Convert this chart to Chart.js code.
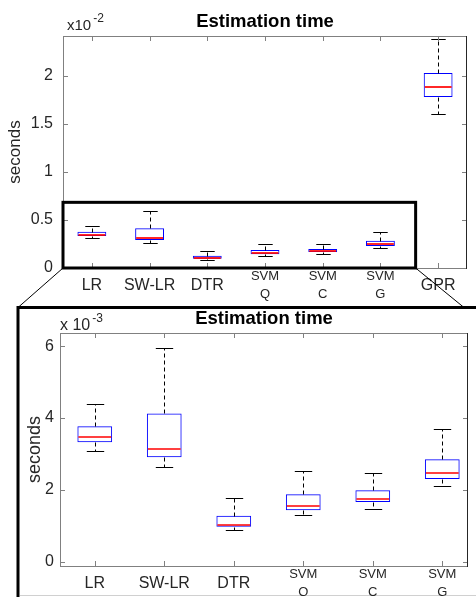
<!DOCTYPE html>
<html>
<head>
<meta charset="utf-8">
<title>Estimation time</title>
<script src="https://cdn.jsdelivr.net/npm/chart.js@4.4.1/dist/chart.umd.min.js"></script>
<style>
    html, body { margin: 0; padding: 0; background: #fff; }
    #stage { position: relative; width: 476px; height: 597px; overflow: hidden; }
    #stage canvas { position: absolute; left: 0; top: 0; }
</style>
</head>
<body>
<div id="stage">
    <canvas id="overview" width="476" height="597"></canvas>
    <canvas id="closeup" width="476" height="597"></canvas>
</div>
<script>
const categories = ['LR', 'SW-LR', 'DTR', ['SVM', 'Q'], ['SVM', 'C'], ['SVM', 'G'], 'GPR'];

// estimation time, in units of 1e-3 s
const whiskerLow = [3.09, 2.63, 0.88, 1.30, 1.47, 2.10, 16.0];
const q1 = [3.33, 2.91, 0.97, 1.43, 1.66, 2.30, 17.8];
const median = [3.47, 3.14, 1.03, 1.54, 1.76, 2.46, 18.9];
const q3 = [3.77, 4.13, 1.28, 1.88, 1.99, 2.85, 20.3];
const whiskerHigh = [4.38, 5.94, 1.77, 2.54, 2.47, 3.70, 23.85];

const overviewTicks = [0, 0.5, 1, 1.5, 2]; // x10^-2
const closeupTicks = [0, 2, 4, 6]; // x10^-3
const closeupCount = 6; // GPR is left out of the close-up

// zoom rectangle on the overview, in overview units
const zoomArea = { x: [0.5, 6.61], y: [0, 0.684] };

const FONT = '"Liberation Sans", Arial, Helvetica, sans-serif';
const INK = '#262626';
const AXIS = '#808080';

function line(ctx, x1, y1, x2, y2) {
    ctx.beginPath();
    ctx.moveTo(x1, y1);
    ctx.lineTo(x2, y2);
    ctx.stroke();
}

const boxWhiskers = {
    id: 'boxWhiskers',
    afterDatasetsDraw(chart, args, opts) {
        const { ctx, chartArea: area, scales: { y } } = chart;
        const bars = chart.getDatasetMeta(0).data;
        const py = (v) => Math.round(y.getPixelForValue(v / opts.unit)) + 0.5;

        ctx.save();
        ctx.beginPath();
        ctx.rect(area.left, area.top, area.right - area.left, area.bottom - area.top);
        ctx.clip();

        bars.forEach((bar, i) => {
            const cx = Math.round(bar.x) + 0.5;
            const half = bar.width / 2;

            ctx.lineWidth = 1;
            ctx.strokeStyle = '#000';
            ctx.setLineDash([4, 3]);
            line(ctx, cx, py(q3[i]), cx, py(whiskerHigh[i]));
            line(ctx, cx, py(q1[i]), cx, py(whiskerLow[i]));
            ctx.setLineDash([]);
            line(ctx, cx - half / 2, py(whiskerHigh[i]), cx + half / 2, py(whiskerHigh[i]));
            line(ctx, cx - half / 2, py(whiskerLow[i]), cx + half / 2, py(whiskerLow[i]));

            const my = Math.round(y.getPixelForValue(median[i] / opts.unit));
            ctx.lineWidth = 1.7;
            ctx.strokeStyle = '#ff0000';
            line(ctx, bar.x - half + 1, my, bar.x + half - 1, my);
        });
        ctx.restore();
    },
};

const axesFrame = {
    id: 'axesFrame',
    afterDatasetsDraw(chart, args, opts) {
        const { ctx, chartArea: { left, top, right, bottom }, scales: { x, y } } = chart;
        const tick = 5;

        ctx.save();
        ctx.lineWidth = 1;
        ctx.strokeStyle = AXIS;
        line(ctx, left + 0.5, top, left + 0.5, bottom + 1);
        line(ctx, left, top + 0.5, right, top + 0.5);
        line(ctx, left, bottom + 0.5, right, bottom + 0.5);

        x.ticks.forEach((t) => {
            const px = Math.round(x.getPixelForValue(t.value)) + 0.5;
            line(ctx, px, bottom, px, bottom - tick);
            line(ctx, px, top, px, top + tick);
        });
        y.ticks.forEach((t) => {
            const py = Math.round(y.getPixelForValue(t.value)) + 0.5;
            line(ctx, left, py, left + tick, py);
            line(ctx, right, py, right - tick, py);
        });

        ctx.strokeStyle = INK;
        line(ctx, right - 0.5, top, right - 0.5, bottom + 1);

        // axis exponent
        ctx.fillStyle = INK;
        ctx.textBaseline = 'alphabetic';
        ctx.font = `${opts.baseSize}px ${FONT}`;
        const bx = left + opts.dx;
        ctx.fillText(opts.base, bx, top + opts.dy);
        const w = ctx.measureText(opts.base).width;
        ctx.font = `12px ${FONT}`;
        ctx.fillText(opts.power, bx + w + 2, top + opts.dy - 8);
        ctx.restore();
    },
};

const zoomGuide = {
    id: 'zoomGuide',
    afterDraw(chart, args, opts) {
        const { ctx, scales: { x, y } } = chart;
        const l = x.getPixelForValue(zoomArea.x[0]);
        const r = x.getPixelForValue(zoomArea.x[1]);
        const b = y.getPixelForValue(zoomArea.y[0]);
        const t = y.getPixelForValue(zoomArea.y[1]);
        const frame = opts.frame;

        ctx.save();
        ctx.strokeStyle = '#000';
        ctx.lineWidth = 3;
        ctx.strokeRect(l, t, r - l, b - t);

        ctx.beginPath();
        ctx.moveTo(frame.left, chart.height + 2);
        ctx.lineTo(frame.left, frame.top);
        ctx.lineTo(chart.width + 2, frame.top);
        ctx.stroke();

        ctx.lineWidth = 1;
        line(ctx, l, b, frame.left, frame.top);
        line(ctx, r, b, frame.rightHit, frame.top);

        ctx.strokeStyle = '#d0d0d0';
        line(ctx, frame.left + 2, chart.height - 1.5, chart.width, chart.height - 1.5);
        ctx.restore();
    },
};

function boxChart(canvas, cfg) {
    const n = cfg.count;
    const big = { family: FONT, size: 16, lineHeight: '36px' };
    const small = { family: FONT, size: 13, lineHeight: '17.5px' };

    return new Chart(canvas, {
        type: 'bar',
        data: {
            datasets: [{
                data: q1.slice(0, n).map((v, i) => ({ x: i + 1, y: [v / cfg.unit, q3[i] / cfg.unit] })),
                backgroundColor: 'rgba(255, 255, 255, 0)',
                borderColor: '#0000ff',
                borderWidth: 1,
                borderSkipped: false,
                categoryPercentage: 1,
                barPercentage: 0.5,
            }],
        },
        options: {
            responsive: false,
            animation: false,
            events: [],
            layout: { padding: cfg.padding },
            plugins: {
                legend: { display: false },
                tooltip: { enabled: false },
                title: {
                    display: true,
                    text: 'Estimation time',
                    fullSize: false,
                    color: '#000',
                    font: { family: FONT, size: 18.5, weight: 'bold', lineHeight: 1.2 },
                    padding: cfg.titlePadding,
                },
                boxWhiskers: { unit: cfg.unit },
                axesFrame: cfg.exponent,
                zoomGuide: cfg.guide || {},
            },
            scales: {
                x: {
                    type: 'linear',
                    min: 0.5,
                    max: cfg.xMax,
                    bounds: 'data',
                    offset: false,
                    grid: { display: false, drawTicks: false },
                    border: { display: false },
                    afterBuildTicks: (scale) => {
                        scale.ticks = categories.slice(0, n).map((c, i) => ({ value: i + 1 }));
                    },
                    afterFit: (scale) => { scale.height = cfg.xHeight; },
                    ticks: {
                        padding: 0,
                        color: INK,
                        autoSkip: false,
                        maxRotation: 0,
                        callback: (value) => categories[value - 1],
                        font: (ctx) => (Array.isArray(categories[ctx.index]) ? small : big),
                    },
                },
                y: {
                    min: cfg.yMin,
                    max: cfg.yMax,
                    bounds: 'data',
                    grid: { display: false, drawTicks: false },
                    border: { display: false },
                    afterBuildTicks: (scale) => {
                        scale.ticks = cfg.yTicks.map((v) => ({ value: v }));
                    },
                    afterFit: (scale) => { scale.width = cfg.yWidth; },
                    ticks: {
                        padding: cfg.yPad,
                        color: INK,
                        font: { family: FONT, size: 16 },
                        callback: (value) => String(value),
                    },
                    title: {
                        display: true,
                        text: 'seconds',
                        color: INK,
                        font: { family: FONT, size: cfg.yTitleSize, lineHeight: 1.2 },
                        padding: { top: cfg.yTitlePad, bottom: 0 },
                    },
                },
            },
        },
        plugins: cfg.plugins,
    });
}

boxChart(document.getElementById('overview'), {
    count: categories.length,
    unit: 10,
    xMax: 7.5,
    yMin: 0,
    yMax: 2.4167,
    yTicks: overviewTicks,
    padding: { left: 0, right: 9, top: 0, bottom: 289 },
    titlePadding: { top: 10.5, bottom: 3.3 },
    xHeight: 40,
    yWidth: 63,
    yPad: 10,
    yTitleSize: 17,
    yTitlePad: 5,
    exponent: { base: 'x10', power: '-2', baseSize: 15, dx: 4, dy: -6 },
    guide: { frame: { left: 18, top: 307.5, rightHit: 464 } },
    plugins: [boxWhiskers, axesFrame, zoomGuide],
});

boxChart(document.getElementById('closeup'), {
    count: closeupCount,
    unit: 1,
    xMax: 6.37,
    yMin: -0.12,
    yMax: 6.37,
    yTicks: closeupTicks,
    padding: { left: 0, right: 8, top: 308, bottom: 1 },
    titlePadding: { top: 0, bottom: 2.8 },
    xHeight: 30,
    yWidth: 60,
    yPad: 6,
    yTitleSize: 18,
    yTitlePad: 24,
    exponent: { base: 'x 10', power: '-3', baseSize: 16, dx: 0, dy: -3 },
    plugins: [boxWhiskers, axesFrame],
});
</script>
</body>
</html>
